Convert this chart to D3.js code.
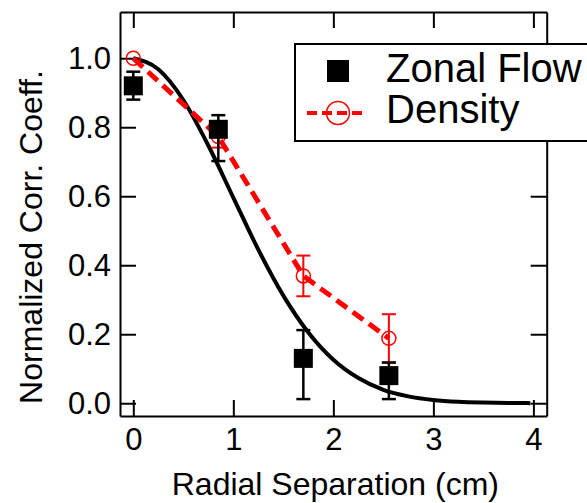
<!DOCTYPE html>
<html>
<head>
<meta charset="utf-8">
<script src="https://cdn.jsdelivr.net/npm/d3@7"></script>
<style>
  body { margin: 0; background: #fff; }
  svg text { font-family: "Liberation Sans", Arial, Helvetica, sans-serif; fill: #000; }
</style>
</head>
<body>
<svg id="chart" width="587" height="503"></svg>
<script>
// zonal flow correlation (black squares), asymmetric error bars
const zonalX = [0, 0.85, 1.7, 2.555];
const zonalY = [0.92, 0.794, 0.13, 0.08];
const zonalErrHi = [0.041, 0.041, 0.082, 0.038];
const zonalErrLo = [0.04, 0.092, 0.118, 0.068];

// density correlation (red open circles, dashed line)
const densX = [0, 0.85, 1.7, 2.555];
const densY = [1.0, 0.773, 0.369, 0.188];
const densErr = [0.0, 0.032, 0.059, 0.07];

// gaussian fit curve
const fitX = [0, 0.25, 0.5, 0.75, 1.0, 1.25, 1.5, 1.75, 2.0, 2.25, 2.5, 2.75, 3.0, 3.25, 3.5, 3.75, 3.97];
const fitY = [1.0, 0.968, 0.879, 0.747, 0.596, 0.445, 0.312, 0.205, 0.126, 0.073, 0.039, 0.02, 0.0095, 0.0042, 0.0018, 0.0007, 0.0003];

const xTicks = [0, 1, 2, 3, 4];
const yTicks = [0, 0.2, 0.4, 0.6, 0.8, 1.0];

const LEFT = 120, RIGHT = 546.7, TOP = 12, BOTTOM = 416;
const TICK = 16;
const FONT = 31;

const svg = d3.select("#chart");

const x = d3.scaleLinear().domain([-0.133, 4.133]).range([LEFT, RIGHT]);
const y = d3.scaleLinear().domain([-0.037, 1.134]).range([BOTTOM, TOP]);

function styleAxis(g) {
    g.selectAll("path.domain").attr("stroke", "#000").attr("stroke-width", 2);
    g.selectAll(".tick line").attr("stroke", "#000").attr("stroke-width", 2);
    g.selectAll(".tick text").attr("font-size", FONT).attr("fill", "#000")
        .style("font-family", "'Liberation Sans', Arial, sans-serif");
}

// axes, all ticks point inward
svg.append("g").attr("transform", `translate(0,${BOTTOM})`)
    .call(d3.axisBottom(x).tickValues(xTicks).tickSizeInner(-TICK).tickSizeOuter(0)
        .tickPadding(12).tickFormat(d3.format("d")))
    .call(styleAxis);

svg.append("g").attr("transform", `translate(0,${TOP})`)
    .call(d3.axisTop(x).tickValues(xTicks).tickSizeInner(-TICK).tickSizeOuter(0).tickFormat(""))
    .call(styleAxis);

svg.append("g").attr("transform", `translate(${LEFT},0)`)
    .call(d3.axisLeft(y).tickValues(yTicks).tickSizeInner(-TICK).tickSizeOuter(0)
        .tickPadding(9).tickFormat(d3.format(".1f")))
    .call(styleAxis);

svg.append("g").attr("transform", `translate(${RIGHT},0)`)
    .call(d3.axisRight(y).tickValues(yTicks).tickSizeInner(-TICK).tickSizeOuter(0).tickFormat(""))
    .call(styleAxis);

// axis titles
svg.append("text")
    .attr("x", (LEFT + RIGHT) / 2 + 2)
    .attr("y", 495)
    .attr("text-anchor", "middle")
    .attr("font-size", 32)
    .text("Radial Separation (cm)");

svg.append("text")
    .attr("transform", `translate(42,${(TOP + BOTTOM) / 2 + 23}) rotate(-90)`)
    .attr("text-anchor", "middle")
    .attr("font-size", 32)
    .text("Normalized Corr. Coeff.");

// fit curve
const fitLine = d3.line().x((d, i) => x(fitX[i])).y((d) => y(d)).curve(d3.curveMonotoneX);
svg.append("path")
    .attr("d", fitLine(fitY))
    .attr("fill", "none")
    .attr("stroke", "#000")
    .attr("stroke-width", 4);

// density: dashed line, error bars, open circles
const densLine = d3.line().x((d, i) => x(densX[i])).y((d) => y(d));
svg.append("path")
    .attr("d", densLine(densY))
    .attr("fill", "none")
    .attr("stroke", "#ff0000")
    .attr("stroke-width", 5)
    .attr("stroke-dasharray", "13,7");

const CAP = 7;
densY.forEach((v, i) => {
    if (densErr[i] <= 0) return;
    const cx = x(densX[i]);
    const y1 = y(v + densErr[i]), y2 = y(v - densErr[i]);
    const g = svg.append("g").attr("stroke", "#ff0000").attr("stroke-width", 2);
    g.append("line").attr("x1", cx).attr("x2", cx).attr("y1", y1).attr("y2", y2);
    g.append("line").attr("x1", cx - CAP).attr("x2", cx + CAP).attr("y1", y1).attr("y2", y1);
    g.append("line").attr("x1", cx - CAP).attr("x2", cx + CAP).attr("y1", y2).attr("y2", y2);
});

svg.selectAll(".dens").data(densY).enter().append("circle")
    .attr("class", "dens")
    .attr("cx", (d, i) => x(densX[i]))
    .attr("cy", (d) => y(d))
    .attr("r", 7)
    .attr("fill", "none")
    .attr("stroke", "#ff0000")
    .attr("stroke-width", 1.5);

// zonal flow: error bars and filled squares
zonalY.forEach((v, i) => {
    const cx = x(zonalX[i]);
    const y1 = y(v + zonalErrHi[i]), y2 = y(v - zonalErrLo[i]);
    const g = svg.append("g").attr("stroke", "#000").attr("stroke-width", 2.5);
    g.append("line").attr("x1", cx).attr("x2", cx).attr("y1", y1).attr("y2", y2);
    g.append("line").attr("x1", cx - CAP).attr("x2", cx + CAP).attr("y1", y1).attr("y2", y1);
    g.append("line").attr("x1", cx - CAP).attr("x2", cx + CAP).attr("y1", y2).attr("y2", y2);
});

const SQ = 19;
svg.selectAll(".zonal").data(zonalY).enter().append("rect")
    .attr("class", "zonal")
    .attr("x", (d, i) => x(zonalX[i]) - SQ / 2)
    .attr("y", (d) => y(d) - SQ / 2)
    .attr("width", SQ)
    .attr("height", SQ)
    .attr("fill", "#000");

// legend, box runs off the right edge
const legend = svg.append("g");
legend.append("rect")
    .attr("x", 295).attr("y", 44)
    .attr("width", 320).attr("height", 97)
    .attr("fill", "#fff")
    .attr("stroke", "#000")
    .attr("stroke-width", 2);

legend.append("rect")
    .attr("x", 327).attr("y", 60)
    .attr("width", 22).attr("height", 22)
    .attr("fill", "#000");
legend.append("text")
    .attr("x", 386).attr("y", 82)
    .attr("font-size", 40)
    .text("Zonal Flow");

legend.append("line")
    .attr("x1", 307).attr("x2", 367)
    .attr("y1", 113).attr("y2", 113)
    .attr("stroke", "#ff0000")
    .attr("stroke-width", 4)
    .attr("stroke-dasharray", "10,5");
legend.append("circle")
    .attr("cx", 338).attr("cy", 113).attr("r", 11.5)
    .attr("fill", "none")
    .attr("stroke", "#ff0000")
    .attr("stroke-width", 1.5);
legend.append("text")
    .attr("x", 386).attr("y", 123)
    .attr("font-size", 40)
    .text("Density");
</script>
</body>
</html>
